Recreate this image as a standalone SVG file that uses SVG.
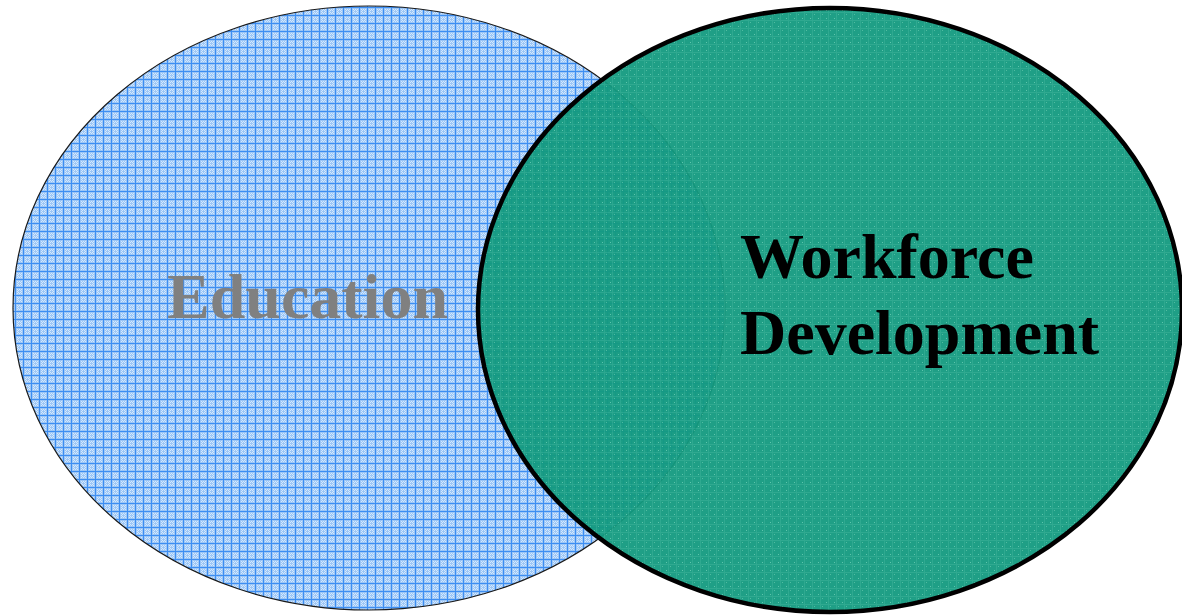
<svg xmlns="http://www.w3.org/2000/svg" width="1182" height="616" viewBox="0 0 1182 616">
<style>
.lbl{font-family:"Liberation Serif","Times New Roman",serif;font-weight:bold;font-size:64px}
</style>
<defs>
<pattern id="pblue" width="8" height="8" patternUnits="userSpaceOnUse">
<rect width="8" height="8" fill="#9cc6f6"/>
<rect x="1" y="1" width="1" height="1" fill="#d4e8fd"/>
<rect x="3" y="1" width="1" height="1" fill="#d4e8fd"/>
<rect x="5" y="1" width="1" height="1" fill="#d4e8fd"/>
<rect x="2" y="2" width="1" height="1" fill="#d4e8fd"/>
<rect x="4" y="2" width="1" height="1" fill="#d4e8fd"/>
<rect x="1" y="3" width="1" height="1" fill="#d4e8fd"/>
<rect x="5" y="3" width="1" height="1" fill="#d4e8fd"/>
<rect x="2" y="4" width="1" height="1" fill="#d4e8fd"/>
<rect x="4" y="4" width="1" height="1" fill="#d4e8fd"/>
<rect x="1" y="5" width="1" height="1" fill="#d4e8fd"/>
<rect x="3" y="5" width="1" height="1" fill="#d4e8fd"/>
<rect x="5" y="5" width="1" height="1" fill="#d4e8fd"/>
<rect x="7" y="0" width="1" height="8" fill="#3d8ef2"/>
<rect x="0" y="7" width="8" height="1" fill="#3d8ef2"/>
</pattern>
<pattern id="pgreen" width="8" height="8" patternUnits="userSpaceOnUse">
<rect width="8" height="8" fill="#139a7f"/>
<rect x="2" y="2" width="1" height="1" fill="#55c2a8"/>
<rect x="6" y="6" width="1" height="1" fill="#48b89c"/>
<rect x="4" y="0" width="1" height="8" fill="#24a48a"/>
<rect x="0" y="4" width="8" height="1" fill="#24a48a"/>
</pattern>
</defs>
<rect width="1182" height="616" fill="#ffffff"/>
<g id="education">
<ellipse cx="369" cy="308" rx="356" ry="302" fill="url(#pblue)" stroke="#1a1a1a" stroke-width="1.2"/>
<text class="lbl" x="167" y="318" fill="#808080">Education</text>
</g>
<g id="workforce">
<ellipse cx="830" cy="310" rx="352" ry="302" fill="url(#pgreen)" fill-opacity="0.95" stroke="#000" stroke-width="4.5"/>
<text class="lbl" x="740" y="278" fill="#000">Workforce</text>
<text class="lbl" x="740" y="354" fill="#000">Development</text>
</g>
<g id="connectors"/>
</svg>
